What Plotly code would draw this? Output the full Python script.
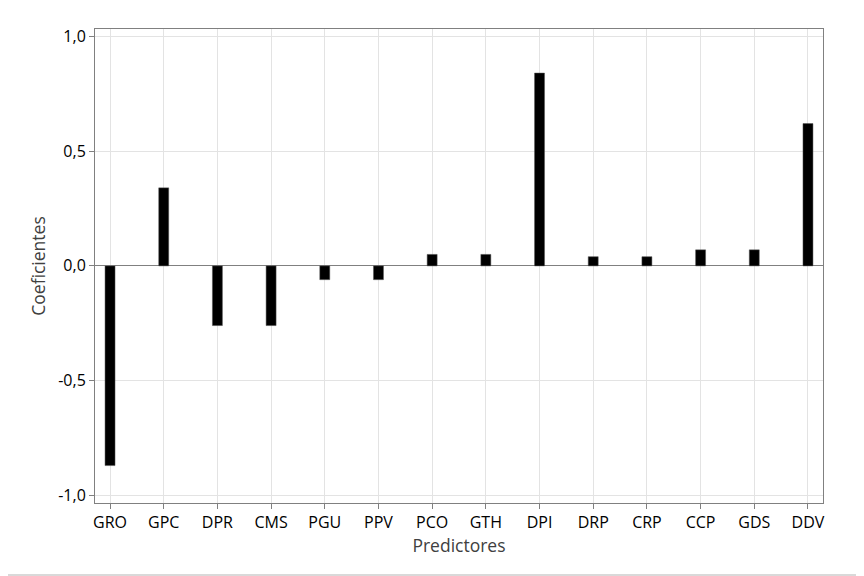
import plotly.graph_objects as go

predictores = ["GRO", "GPC", "DPR", "CMS", "PGU", "PPV", "PCO", "GTH", "DPI", "DRP", "CRP", "CCP", "GDS", "DDV"]
coeficientes = [-0.87, 0.34, -0.26, -0.26, -0.06, -0.06, 0.05, 0.05, 0.84, 0.04, 0.04, 0.07, 0.07, 0.62]
y_ticks = [-1.0, -0.5, 0.0, 0.5, 1.0]
y_tick_labels = ["-1,0", "-0,5", "0,0", "0,5", "1,0"]

# page body adds an 8px offset, so the figure is sized to fill the rest
W, H = 856, 568
ML, MR, MT, MB = 87, 41, 21, 73
pw, ph = W - ML - MR, H - MT - MB

fig = go.Figure()
fig.add_trace(go.Bar(
    x=list(range(len(predictores))), y=coeficientes,
    width=0.186,
    marker=dict(color="black", line=dict(color="#555555", width=0.5)),
))

font = "Segoe UI, Open Sans, Noto Sans, sans-serif"
fig.update_layout(
    width=W, height=H,
    margin=dict(l=ML, r=MR, t=MT, b=MB),
    plot_bgcolor="white", paper_bgcolor="white",
    showlegend=False,
    font=dict(family=font, color="black", size=16),
    xaxis=dict(
        range=[-0.28, 13.28],
        tickmode="array", tickvals=list(range(len(predictores))), ticktext=predictores,
        showgrid=True, gridcolor="#e3e3e3", gridwidth=1,
        showline=True, linecolor="#808080", linewidth=1, mirror=True,
        ticks="outside", ticklen=5, tickcolor="#808080",
        tickfont=dict(size=16, color="black"),
        title=dict(text="Predictores", font=dict(size=17.5, color="#404040"), standoff=6),
        zeroline=False,
    ),
    yaxis=dict(
        range=[-1.033, 1.032],
        tickmode="array", tickvals=y_ticks, ticktext=y_tick_labels,
        showgrid=True, gridcolor="#e3e3e3", gridwidth=1,
        showline=True, linecolor="#808080", linewidth=1, mirror=True,
        ticks="outside", ticklen=5, tickcolor="#808080",
        tickfont=dict(size=16, color="black"),
        title=dict(text="Coeficientes", font=dict(size=17.5, color="#404040"), standoff=8),
        zeroline=True, zerolinecolor="#808080", zerolinewidth=1,
    ),
    shapes=[
        dict(type="line", xref="paper", yref="paper",
             x0=(W - ML - 2) / pw, x1=(W - ML - 2) / pw, y0=-MB / ph, y1=(H - MB) / ph,
             line=dict(color="#d9d9d9", width=2), layer="below"),
        dict(type="line", xref="paper", yref="paper",
             x0=-ML / pw, x1=(W - ML) / pw, y0=(-MB + 1) / ph, y1=(-MB + 1) / ph,
             line=dict(color="#d9d9d9", width=2), layer="below"),
    ],
)

fig.write_html("out.html")
